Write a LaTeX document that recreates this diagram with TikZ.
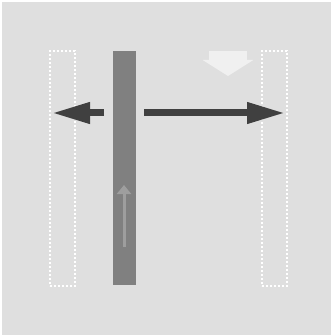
\documentclass[tikz,border=0pt]{standalone}
\usepackage{tikz}
\usetikzlibrary{arrows.meta, positioning}
\definecolor{bggray}{RGB}{223,223,223}
\definecolor{bargray}{RGB}{128,128,128}
\definecolor{arrdark}{RGB}{64,64,64}
\definecolor{arrlight}{RGB}{158,158,158}
\definecolor{arrwhite}{RGB}{240,240,240}

\begin{document}
\begin{tikzpicture}[
  x=1pt, y=-1pt,
  slot/.style = {
    rectangle, draw=white, dash pattern=on 2pt off 2pt, line width=1.4pt,
    minimum width=25pt, minimum height=235pt, inner sep=0pt
  },
  bar/.style = {
    rectangle, fill=bargray, minimum width=23pt, minimum height=234pt, inner sep=0pt
  },
  arr/.style = {-{Triangle[length=38pt, width=20pt]}, line width=7pt, draw=arrdark},
  thin/.style = {-{Triangle[length=9pt, width=14pt]}, line width=3pt, draw=arrlight},
  down/.style = {-{Triangle[length=16pt, width=50pt]}, line width=38pt, draw=arrwhite}
]
\useasboundingbox (0,0) rectangle (332,336);
\fill[bggray] (2,2) rectangle (331,335);

\node[slot] (lslot) at (62.5,168.5) {};
\node[slot] (rslot) at (274.5,168.5) {};
\node[bar]  (beam)  at (124.5,168)  {};

\coordinate (ltail) at (104,113);
\coordinate (ltip)  at (52,113);
\coordinate (rtail) at (144,113);
\coordinate (rtip)  at (285,113);
\coordinate (utail) at (124,247);
\coordinate (utip)  at (124,185);
\coordinate (dtail) at (228,51);
\coordinate (dtip)  at (228,76);

\draw[arr]  (ltail) -- (ltip);
\draw[arr]  (rtail) -- (rtip);
\draw[thin] (utail) -- (utip);
\draw[down] (dtail) -- (dtip);
\end{tikzpicture}
\end{document}
